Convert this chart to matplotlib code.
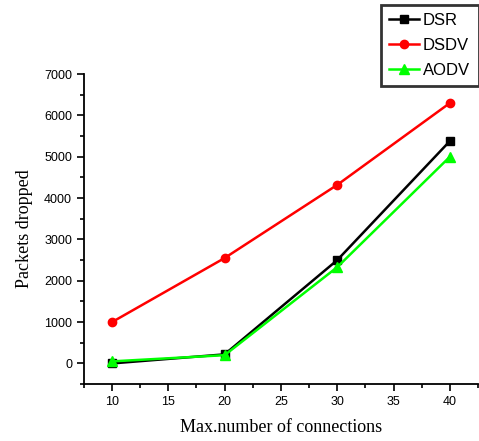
import matplotlib
matplotlib.use("Agg")
import matplotlib.pyplot as plt
from matplotlib.ticker import MultipleLocator

x = [10, 20, 30, 40]
dsr = [0, 220, 2500, 5380]
dsdv = [1000, 2550, 4320, 6300]
aodv = [50, 200, 2330, 5000]

fig = plt.figure(figsize=(4.79, 4.41), dpi=100)
ax = fig.add_axes([0.175, 0.129, 0.823, 0.703])

ax.plot(x, dsr, color='black', marker='s', markersize=6, linewidth=1.8, label='DSR', zorder=3)
ax.plot(x, dsdv, color='#ff0000', marker='o', markersize=6, linewidth=1.8, label='DSDV', zorder=2)
ax.plot(x, aodv, color='#00ff00', marker='^', markersize=7, linewidth=1.8, label='AODV', zorder=4)

ax.set_xlim(7.5, 42.5)
ax.set_ylim(-500, 7000)
ax.xaxis.set_major_locator(MultipleLocator(5))
ax.xaxis.set_minor_locator(MultipleLocator(2.5))
ax.yaxis.set_major_locator(MultipleLocator(1000))
ax.yaxis.set_minor_locator(MultipleLocator(500))
for s in ['top', 'right']:
    ax.spines[s].set_visible(False)
for s in ['left', 'bottom']:
    ax.spines[s].set_linewidth(1.3)
ax.tick_params(which='major', direction='out', length=5, width=1.2, labelsize=9)
ax.tick_params(which='minor', direction='out', length=3, width=1.2)
for lab in ax.get_xticklabels() + ax.get_yticklabels():
    lab.set_family('Liberation Sans')

ax.set_xlabel('Max.number of connections', family='Liberation Serif', fontsize=13, labelpad=8)
ax.set_ylabel('Packets dropped', family='Liberation Serif', fontsize=13, labelpad=8)

leg = fig.legend(loc='upper right', bbox_to_anchor=(0.999, 0.989), frameon=True, fancybox=False,
                 edgecolor='black', prop={'family': 'Liberation Sans', 'size': 12},
                 handlelength=1.8, borderpad=0.5, labelspacing=0.58, handletextpad=0.25,
                 borderaxespad=0.0)
leg.get_frame().set_linewidth(2)

fig.savefig('out.png', dpi=100)
